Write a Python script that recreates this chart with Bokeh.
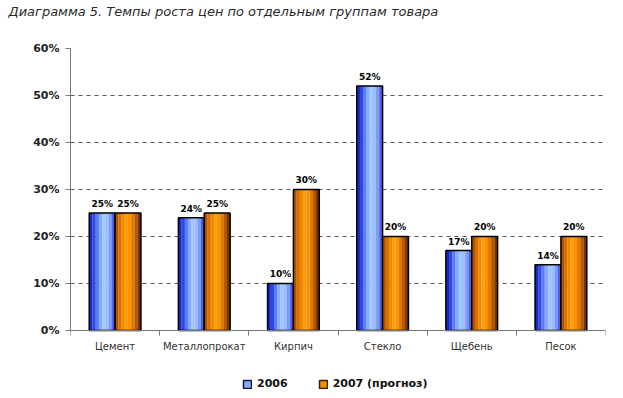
import numpy as np
from bokeh.plotting import figure
from bokeh.models import (FixedTicker, NumeralTickFormatter, Range1d, Legend, LegendItem,
                          ColumnDataSource, Title, LabelSet)
from bokeh.core.properties import value
from bokeh.embed import file_html
from bokeh.resources import INLINE

categories = ["Цемент", "Металлопрокат", "Кирпич", "Стекло", "Щебень", "Песок"]
v2006 = [0.25, 0.24, 0.10, 0.52, 0.17, 0.14]
v2007 = [0.25, 0.25, 0.30, 0.20, 0.20, 0.20]
series_names = ["2006", "2007 (прогноз)"]
y_ticks = [0, 0.1, 0.2, 0.3, 0.4, 0.5, 0.6]
title_text = "Диаграмма 5. Темпы роста цен по отдельным группам товара"

FONT = "DejaVu Sans"
W, H = 621, 396
Y_BOTTOM = -0.132  # extra room under the axis for category labels and legend
p = figure(width=W, height=H, output_backend="svg", toolbar_location=None,
           x_range=Range1d(0, len(categories)), y_range=Range1d(Y_BOTTOM, 0.6),
           min_border_left=70, min_border_right=16, min_border_top=0, min_border_bottom=4)
p.outline_line_color = None
p.background_fill_color = "white"
p.border_fill_color = "white"

p.title.text = title_text
p.title.text_font = FONT
p.title.text_font_size = "13px"
p.title.text_font_style = "italic"
p.title.text_color = "#2a2a2a"
p.title.align = "left"
p.title.offset = -62
p.title.standoff = 3

# blank spacer between the title and the plot frame
spacer = Title(text=" ", text_font_size="2px", standoff=24)
p.add_layout(spacer, "above")

xc = np.arange(len(categories)) + 0.5
bw = 0.29

blue_cols = ["#1a28c8", "#2f48e0", "#5a7cf0", "#86aaff", "#a4c6ff", "#9cbeff", "#7c9cf8", "#4a62e8"]
orange_cols = ["#b25000", "#d87000", "#f08a00", "#ff9c10", "#fa9500", "#e07a00", "#b85a00", "#7a3400"]

def draw_bar(vals, offset, cols):
    n = len(cols)
    sw = bw / n
    src = ColumnDataSource(dict(x=xc + offset, top=vals))
    for i, c in enumerate(cols):
        s = ColumnDataSource(dict(x=xc + offset - bw / 2 + sw * (i + 0.5), top=vals))
        p.vbar(x="x", top="top", bottom=0, width=sw * 1.05, source=s,
               fill_color=c, line_color=None)
    r = p.vbar(x="x", top="top", bottom=0, width=bw, source=src,
               fill_color=None, line_color="black", line_width=1.5)
    lab = ColumnDataSource(dict(x=xc + offset, y=vals,
                                t=[f"{round(v * 100)}%" for v in vals]))
    p.add_layout(LabelSet(x="x", y="y", text="t", source=lab, text_align="center",
                          text_baseline="bottom", y_offset=4, text_font=value(FONT),
                          text_font_size=value("9px"), text_font_style="bold", text_color="black"))
    return r

r1 = draw_bar(v2006, -bw / 2, blue_cols)
r2 = draw_bar(v2007, bw / 2, orange_cols)

# legend proxy glyphs (off-range, invisible in the frame)
d1 = p.rect(x=[-10], y=[-10], width=0.1, height=0.1, fill_color="#8aa8ff", line_color="#101840", line_width=1.5)
d2 = p.rect(x=[-10], y=[-10], width=0.1, height=0.1, fill_color="#f09000", line_color="#402000", line_width=1.5)
legend = Legend(items=[LegendItem(label=series_names[0], renderers=[d1]),
                       LegendItem(label=series_names[1], renderers=[d2])],
                orientation="horizontal", location=(172, 2),
                label_text_font=FONT, label_text_font_size="11px", label_text_font_style="bold",
                label_text_color="#111", glyph_width=10, glyph_height=10, spacing=30,
                border_line_color=None, background_fill_alpha=0, padding=2, margin=0)
p.add_layout(legend)

# axes
p.xaxis.fixed_location = 0
p.xaxis.ticker = FixedTicker(ticks=list(xc), minor_ticks=list(range(len(categories) + 1)))
p.xaxis.major_label_overrides = {float(x): c for x, c in zip(xc, categories)}
p.xaxis.major_tick_line_color = None
p.xaxis.minor_tick_in = 0
p.xaxis.minor_tick_out = 5
p.xaxis.minor_tick_line_color = "#777"
p.xaxis.axis_line_color = "#777"
p.xaxis.major_label_text_font = FONT
p.xaxis.major_label_text_font_size = "10px"
p.xaxis.major_label_text_color = "#333"
p.xaxis.major_label_standoff = 5

p.yaxis.bounds = (0, 0.6)
p.yaxis.ticker = FixedTicker(ticks=y_ticks)
p.yaxis.formatter = NumeralTickFormatter(format="0%")
p.yaxis.minor_tick_line_color = None
p.yaxis.major_tick_in = 0
p.yaxis.major_tick_out = 5
p.yaxis.major_tick_line_color = "#777"
p.yaxis.axis_line_color = "#777"
p.yaxis.major_label_text_font = FONT
p.yaxis.major_label_text_font_size = "11px"
p.yaxis.major_label_text_font_style = "bold"
p.yaxis.major_label_text_color = "#222"
p.yaxis.major_label_standoff = 6

p.xgrid.grid_line_color = None
p.ygrid.grid_line_color = "#555"
p.ygrid.grid_line_dash = "4 4"
p.ygrid.grid_line_width = 1

open("out.html", "w").write(file_html(p, INLINE))
